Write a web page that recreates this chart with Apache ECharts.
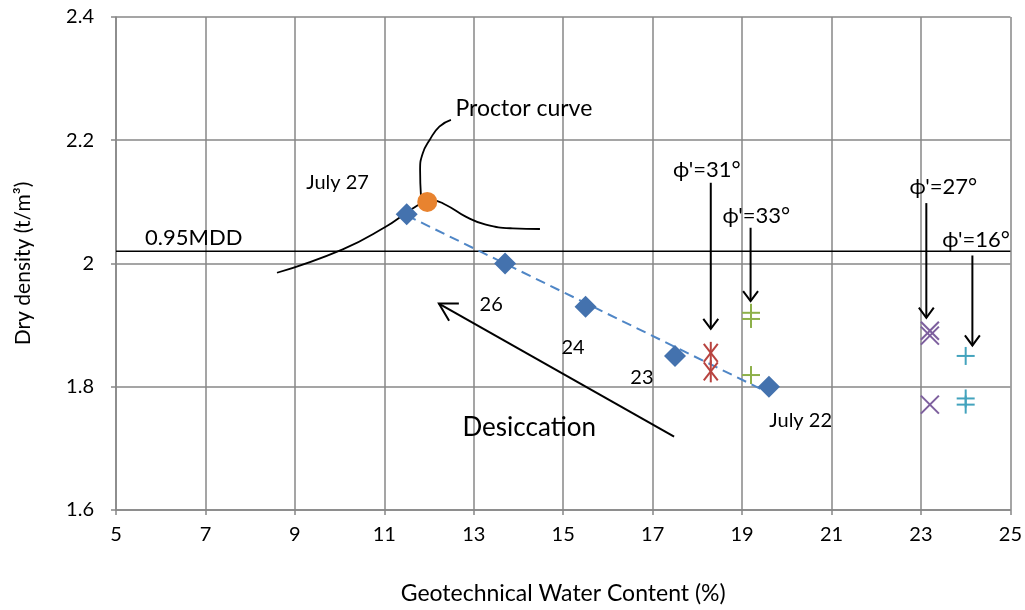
<!DOCTYPE html>
<html>
<head>
<meta charset="utf-8">
<script src="https://cdn.jsdelivr.net/npm/echarts@6/dist/echarts.min.js"></script>
<style>
html,body{margin:0;padding:0;background:#fff;}
#chart{width:1025px;height:610px;}
</style>
</head>
<body>
<div id="chart"></div>
<script>
// ---- data ----
const xTicks = [5, 7, 9, 11, 13, 15, 17, 19, 21, 23, 25];
const yTickLabels = ['1.6', '1.8', '2', '2.2', '2.4'];

const fieldPoints = [[11.5, 2.08], [13.7, 2.0], [15.5, 1.93], [17.5, 1.85], [19.6, 1.80]];
const trendLine = [[11.5, 2.078], [19.6, 1.79]];
const proctorPeak = [[11.96, 2.10]];
const proctorCurve = [
  [8.6, 1.985], [10.07, 2.023], [11.04, 2.06], [11.49, 2.082], [11.86, 2.099],
  [12.05, 2.103], [12.38, 2.095], [12.82, 2.076], [13.27, 2.063], [13.87, 2.057], [14.48, 2.056]
];
const mddLine = [[5, 2.02], [25, 2.02]];
const phi31 = [[18.3, 1.855], [18.3, 1.825]];
const phi33 = [[19.2, 1.92], [19.2, 1.91], [19.2, 1.819]];
const phi27 = [[23.2, 1.891], [23.2, 1.883], [23.2, 1.771]];
const phi16 = [[24.0, 1.85], [24.0, 1.781], [24.0, 1.771]];
const leaderLine = [[11.82, 2.1085], [11.80, 2.152], [11.86, 2.179], [12.01, 2.200], [12.23, 2.222], [12.49, 2.233]];
const phiArrows = [
  [18.3, 2.131, 18.3, 1.894],
  [19.19, 2.058, 19.19, 1.939],
  [23.12, 2.098, 23.12, 1.912],
  [24.15, 2.013, 24.15, 1.867]
];
const desiccationArrow = [[17.48, 1.719, 12.22, 1.935]];
const labels = [
  [12.59, 2.252, 'Proctor curve', 'left', 23],
  [9.955, 2.132, 'July 27', 'center', 20],
  [5.65, 2.042, '0.95MDD', 'left', 22],
  [13.39, 1.934, '26', 'center', 20],
  [15.22, 1.864, '24', 'center', 20],
  [16.76, 1.815, '23', 'center', 20],
  [20.31, 1.745, 'July 22', 'center', 20],
  [14.24, 1.734, 'Desiccation', 'center', 26],
  [18.21, 2.152, "\u03D5'=31\u00B0", 'center', 22],
  [19.32, 2.077, "\u03D5'=33\u00B0", 'center', 22],
  [23.5, 2.124, "\u03D5'=27\u00B0", 'center', 22],
  [24.23, 2.039, "\u03D5'=16\u00B0", 'center', 22]
];

const FONT = "Lato, 'Noto Sans', 'DejaVu Sans', sans-serif";
const GRID = '#878787';

function markerSeries(data, color, shape) {
  return {
    type: 'custom',
    data: data,
    encode: {x: 0, y: 1},
    z: 5,
    renderItem: function (params, api) {
      const p = api.coord([api.value(0), api.value(1)]);
      const s = 9;
      const st = {stroke: color, lineWidth: 2};
      let segs;
      if (shape === 'plus') segs = [[-s, 0, s, 0], [0, -s, 0, s]];
      else if (shape === 'x') segs = [[-s, -s, s, s], [s, -s, -s, s]];
      else segs = [[-7, -9, 7, 9], [7, -9, -7, 9], [0, -11, 0, 11]];
      return {
        type: 'group',
        children: segs.map(g => ({type: 'line', shape: {x1: p[0] + g[0], y1: p[1] + g[1], x2: p[0] + g[2], y2: p[1] + g[3]}, style: st}))
      };
    }
  };
}

function arrowSeries(data, headLen, halfAngle) {
  return {
    type: 'custom',
    data: data,
    encode: {x: [0, 2], y: [1, 3]},
    z: 6,
    renderItem: function (params, api) {
      const a = api.coord([api.value(0), api.value(1)]);
      const b = api.coord([api.value(2), api.value(3)]);
      const ang = Math.atan2(a[1] - b[1], a[0] - b[0]);
      const st = {stroke: '#000', lineWidth: 2};
      const h1 = [b[0] + headLen * Math.cos(ang + halfAngle), b[1] + headLen * Math.sin(ang + halfAngle)];
      const h2 = [b[0] + headLen * Math.cos(ang - halfAngle), b[1] + headLen * Math.sin(ang - halfAngle)];
      return {
        type: 'group',
        children: [
          {type: 'line', shape: {x1: a[0], y1: a[1], x2: b[0], y2: b[1]}, style: st},
          {type: 'polyline', shape: {points: [h1, b, h2]}, style: {stroke: '#000', lineWidth: 2, fill: null}}
        ]
      };
    }
  };
}

const chart = echarts.init(document.getElementById('chart'));
chart.setOption({
  animation: false,
  backgroundColor: '#fff',
  grid: {left: 116, right: 13, top: 17, bottom: 99},
  xAxis: {
    type: 'value', min: xTicks[0], max: xTicks[xTicks.length - 1], interval: 2,
    name: 'Geotechnical Water Content (%)', nameLocation: 'middle', nameGap: 72,
    nameTextStyle: {fontFamily: FONT, fontSize: 23, color: '#000'},
    axisLine: {lineStyle: {color: GRID, width: 1.5}},
    axisTick: {show: true, length: 5, inside: false, lineStyle: {color: GRID, width: 1.5}},
    axisLabel: {fontFamily: FONT, fontSize: 20, color: '#000', margin: 15},
    splitLine: {show: true, lineStyle: {color: GRID, width: 1.5}}
  },
  yAxis: {
    type: 'value', min: 1.6, max: 2.4, interval: 0.2,
    name: 'Dry density (t/m\u00B3)', nameLocation: 'middle', nameGap: 82, nameRotate: 90,
    nameTextStyle: {fontFamily: FONT, fontSize: 21, color: '#000'},
    axisLine: {show: true, lineStyle: {color: GRID, width: 1.5}},
    axisTick: {show: true, length: 5, lineStyle: {color: GRID, width: 1.5}},
    axisLabel: {fontFamily: FONT, fontSize: 20, color: '#000', margin: 22,
      formatter: function (v) { return yTickLabels[Math.round((v - 1.6) / 0.2)]; }},
    splitLine: {show: true, lineStyle: {color: GRID, width: 1.5}}
  },
  series: [
    {type: 'line', data: mddLine, symbol: 'none', lineStyle: {color: '#000', width: 1.5}, z: 3},
    {type: 'line', data: proctorCurve, smooth: true, symbol: 'none', lineStyle: {color: '#000', width: 1.8}, z: 3},
    {type: 'line', data: leaderLine, smooth: true, symbol: 'none', lineStyle: {color: '#000', width: 1.8}, z: 3},
    {type: 'line', data: trendLine, symbol: 'none', lineStyle: {color: '#4F86C6', width: 2, type: [10, 6]}, z: 4},
    {type: 'scatter', data: fieldPoints, symbol: 'diamond', symbolSize: [22, 22], itemStyle: {color: '#4472AE', opacity: 1}, z: 5},
    {type: 'scatter', data: proctorPeak, symbol: 'circle', symbolSize: 20, itemStyle: {color: '#E8832F', opacity: 1}, z: 5},
    markerSeries(phi31, '#B8433F', 'star'),
    markerSeries(phi33, '#8DB04A', 'plus'),
    markerSeries(phi27, '#7D5F9E', 'x'),
    markerSeries(phi16, '#43A3BD', 'plus'),
    arrowSeries(phiArrows, 12.5, 0.64),
    arrowSeries(desiccationArrow, 20, 0.52),
    {
      type: 'custom',
      data: labels,
      encode: {x: 0, y: 1},
      z: 7,
      renderItem: function (params, api) {
        const p = api.coord([api.value(0), api.value(1)]);
        const item = labels[params.dataIndex];
        return {
          type: 'text', x: p[0], y: p[1],
          style: {text: item[2], fill: '#000', fontFamily: FONT, fontSize: item[4], align: item[3], verticalAlign: 'middle'}
        };
      }
    }
  ]
});
</script>
</body>
</html>
